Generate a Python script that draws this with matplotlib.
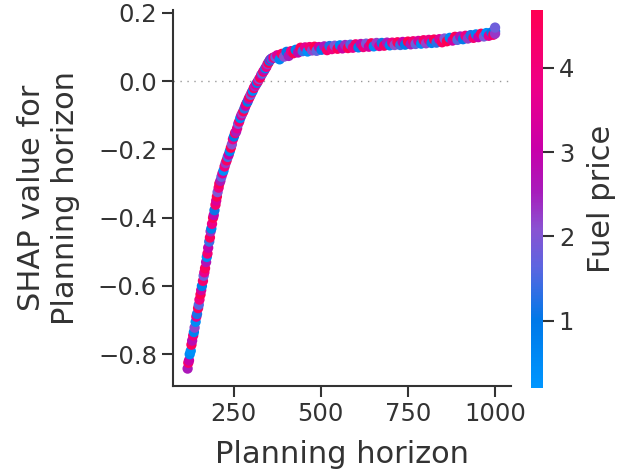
import matplotlib.pyplot as plt
from matplotlib.colors import LinearSegmentedColormap

# planning horizon, SHAP contribution and fuel price for each sample
horizon = [118, 120, 122, 124, 127, 129, 131, 134, 136, 138, 141, 143, 145, 148, 150,
           152, 155, 157, 159, 162, 164, 166, 168, 171, 173, 175, 177, 180, 182, 184,
           186, 188, 191, 193, 195, 198, 200, 202, 204, 207, 209, 212, 215, 218, 221,
           224, 227, 230, 233, 236, 239, 242, 245, 248, 251, 254, 257, 260, 263, 266,
           269, 272, 275, 278, 281, 284, 287, 290, 293, 296, 299, 302, 305, 308, 311,
           314, 317, 320, 323, 326, 329, 332, 335, 338, 341, 344, 347, 350, 353, 356,
           359, 362, 366, 370,
           375, 382, 388, 395, 402, 408, 415, 422, 428, 435, 442, 448, 455, 462, 468,
           475, 482, 488, 495, 502, 510, 518, 525, 532, 540, 548, 555, 562, 570, 578,
           585, 592, 600, 608, 615, 622, 630, 638, 645, 652, 660, 668, 675, 682, 690,
           698, 705, 712, 720, 728, 735, 742, 750, 758, 765, 772, 780, 788, 795, 802,
           810, 818, 825, 832, 840, 848, 855, 862, 870, 878, 885, 892, 900, 908, 915,
           922, 930, 938, 945, 952, 960, 968, 975, 982, 990, 995, 1000, 1000, 1000]

shap_vals = [-0.842, -0.825, -0.818, -0.800, -0.790, -0.772, -0.760, -0.745, -0.735, -0.722,
             -0.705, -0.690, -0.682, -0.665, -0.655, -0.640, -0.625, -0.612, -0.600, -0.585,
             -0.570, -0.560, -0.548, -0.530, -0.515, -0.505, -0.488, -0.470, -0.458, -0.440,
             -0.432, -0.418, -0.400, -0.392, -0.378, -0.362, -0.350, -0.338, -0.325, -0.312,
             -0.300, -0.292, -0.280, -0.270, -0.262, -0.250, -0.240, -0.232, -0.222, -0.215,
             -0.205, -0.195, -0.185, -0.170, -0.162, -0.152, -0.148, -0.138, -0.125, -0.118,
             -0.108, -0.100, -0.094, -0.088, -0.080, -0.072, -0.065, -0.060, -0.052, -0.046,
             -0.040, -0.033, -0.028, -0.020, -0.015, -0.010, -0.005, 0.000, 0.006, 0.010,
             0.018, 0.022, 0.028, 0.032, 0.038, 0.042, 0.050, 0.054, 0.060, 0.064,
             0.066, 0.068, 0.070, 0.071,
             0.076, 0.064, 0.080, 0.072, 0.086, 0.074, 0.088, 0.082, 0.092, 0.084,
             0.098, 0.088, 0.099, 0.087, 0.100, 0.090, 0.101, 0.089, 0.100, 0.092,
             0.102, 0.091, 0.103, 0.094, 0.104, 0.095, 0.105, 0.096, 0.106, 0.097,
             0.107, 0.098, 0.108, 0.099, 0.109, 0.100, 0.110, 0.101, 0.111, 0.102,
             0.112, 0.103, 0.112, 0.104, 0.113, 0.105, 0.113, 0.106, 0.114, 0.106,
             0.115, 0.107, 0.116, 0.108, 0.117, 0.109, 0.118, 0.110, 0.120, 0.111,
             0.121, 0.112, 0.122, 0.113, 0.123, 0.114, 0.125, 0.117, 0.127, 0.119,
             0.130, 0.121, 0.131, 0.123, 0.133, 0.125, 0.135, 0.127, 0.137, 0.129,
             0.139, 0.131, 0.141, 0.133, 0.143, 0.136, 0.146, 0.139, 0.157]

fuel = [2.6, 4.3, 3.1, 0.6, 0.4, 4.5, 2.8, 4.0, 0.7, 2.2, 0.5, 3.6, 1.2, 4.4, 1.6,
        3.9, 4.6, 3.3, 0.9, 4.2, 1.8, 3.7, 4.5, 2.7, 0.5, 4.1, 3.0, 1.4, 4.4, 2.4,
        0.8, 3.8, 4.6, 2.9, 1.1, 4.2, 3.4, 4.7, 2.0, 3.9, 4.5, 2.6, 1.7, 3.5, 0.4,
        4.0, 2.3, 4.4, 1.5, 3.1, 0.7, 4.6, 2.1, 3.8, 1.0, 4.3, 2.5, 3.6, 1.9, 4.1,
        0.6, 3.3, 2.2, 4.5, 1.3, 3.0, 4.2, 0.9, 2.7, 4.6, 1.8, 3.9, 0.5, 4.4, 2.4,
        3.5, 0.8, 4.0, 2.0, 4.6, 3.2, 1.6, 4.3, 2.8, 0.7, 3.7, 2.3, 4.5, 1.1, 3.0,
        0.5, 2.6, 4.2, 1.9,
        3.4, 0.6, 4.4, 2.1, 1.0, 2.5, 3.8, 4.6, 0.8, 2.9, 4.5, 1.4, 3.6, 0.4, 4.1,
        2.2, 4.7, 1.7, 3.2, 0.9, 2.6, 4.3, 1.2, 3.9, 2.0, 4.5, 0.6, 3.1, 2.4, 4.6,
        1.5, 3.7, 4.2, 0.8, 2.8, 4.0, 1.9, 3.3, 4.6, 0.5, 2.3, 3.6, 1.1, 4.4, 2.6,
        0.7, 3.9, 2.1, 4.5, 1.4, 3.0, 0.9, 4.7, 2.5, 4.1, 1.7, 3.4, 0.5, 4.3, 2.2,
        3.8, 0.8, 4.6, 1.3, 3.5, 4.4, 2.0, 4.7, 0.6, 3.2, 4.5, 1.6, 2.7, 0.9, 3.9,
        2.3, 1.2, 4.2, 0.7, 3.0, 4.6, 1.9, 0.4, 3.6, 1.0, 4.4, 0.8, 2.3, 1.8]

fuel_min, fuel_max = 0.2, 4.69

# blue -> purple -> red, like the shap palette
red_blue = LinearSegmentedColormap.from_list('red_blue', [
    (0.00, '#0096ff'),
    (0.18, '#0078e8'),
    (0.32, '#5d65e0'),
    (0.42, '#8a52d2'),
    (0.52, '#a81bbb'),
    (0.63, '#c800aa'),
    (0.80, '#ee0087'),
    (1.00, '#ff0052'),
])

grey = '#333333'

fig = plt.figure(figsize=(6.29, 4.69), dpi=100)
ax = fig.add_axes([0.275, 0.177, 0.537, 0.802])
cax = fig.add_axes([0.844, 0.173, 0.019, 0.806])

ax.axhline(0, color='#999999', lw=1, ls=(0, (1, 4)), zorder=1)
sc = ax.scatter(horizon, shap_vals, c=fuel, cmap=red_blue, vmin=fuel_min, vmax=fuel_max,
                s=55, linewidths=0, zorder=2)

ax.set_xlim(76, 1045)
ax.set_ylim(-0.893, 0.209)
ax.set_xticks([250, 500, 750, 1000])
ax.set_yticks([-0.8, -0.6, -0.4, -0.2, 0.0, 0.2])

for side in ['top', 'right']:
    ax.spines[side].set_visible(False)
for side in ['left', 'bottom']:
    ax.spines[side].set_color(grey)
    ax.spines[side].set_linewidth(1.5)

ax.tick_params(colors=grey, labelsize=17.5, length=8, width=1.5)
ax.set_xlabel('Planning horizon', fontsize=22, color=grey, labelpad=10)
ax.set_ylabel('SHAP value for\nPlanning horizon', fontsize=22, color=grey, labelpad=13)

cb = fig.colorbar(sc, cax=cax, ticks=[1, 2, 3, 4])
cb.outline.set_visible(False)
cb.ax.tick_params(colors=grey, labelsize=17.5, length=8, width=1.5)
cb.set_label('Fuel price', fontsize=22, color=grey, labelpad=9)

fig.savefig('out.png', dpi=100)
